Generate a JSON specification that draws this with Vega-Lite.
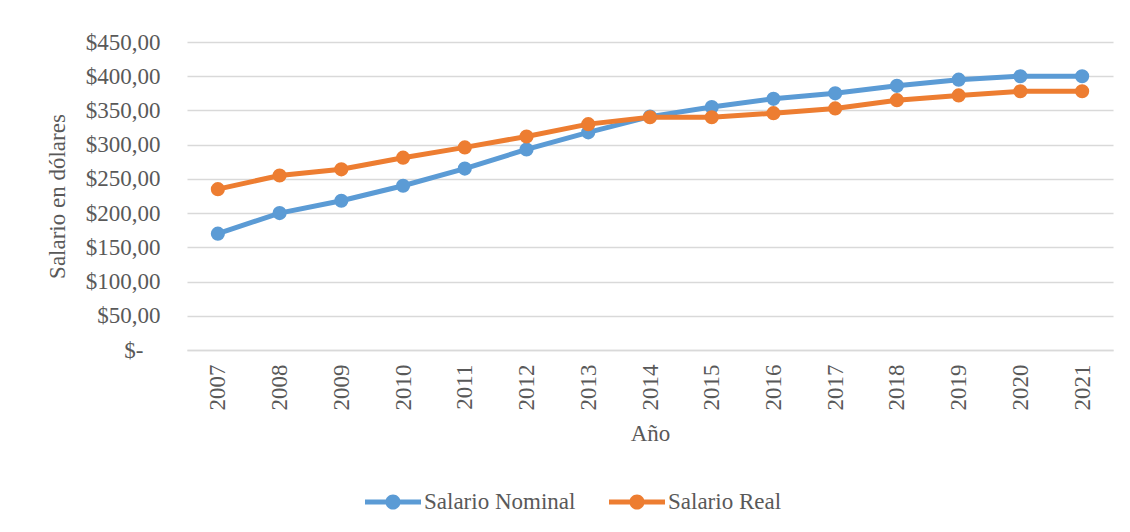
{
  "$schema": "https://vega.github.io/schema/vega-lite/v6.json",
  "width": 926,
  "height": 308,
  "autosize": "none",
  "padding": {"left": 187, "top": 42, "right": 17, "bottom": 182},
  "background": "white",
  "config": {
    "view": {"stroke": null},
    "font": "Liberation Serif",
    "axis": {
      "labelFont": "Liberation Serif",
      "titleFont": "Liberation Serif",
      "labelFontSize": 23,
      "titleFontSize": 23,
      "labelColor": "#595959",
      "titleColor": "#595959",
      "titleFontWeight": "normal",
      "ticks": false
    },
    "legend": {
      "labelFont": "Liberation Serif"
    }
  },
  "data": {
    "values": [
      {"year": "2007", "series": "Salario Nominal", "value": 170},
      {"year": "2008", "series": "Salario Nominal", "value": 200},
      {"year": "2009", "series": "Salario Nominal", "value": 218},
      {"year": "2010", "series": "Salario Nominal", "value": 240},
      {"year": "2011", "series": "Salario Nominal", "value": 265},
      {"year": "2012", "series": "Salario Nominal", "value": 293},
      {"year": "2013", "series": "Salario Nominal", "value": 318},
      {"year": "2014", "series": "Salario Nominal", "value": 341},
      {"year": "2015", "series": "Salario Nominal", "value": 355},
      {"year": "2016", "series": "Salario Nominal", "value": 367},
      {"year": "2017", "series": "Salario Nominal", "value": 375},
      {"year": "2018", "series": "Salario Nominal", "value": 386},
      {"year": "2019", "series": "Salario Nominal", "value": 395},
      {"year": "2020", "series": "Salario Nominal", "value": 400},
      {"year": "2021", "series": "Salario Nominal", "value": 400},
      {"year": "2007", "series": "Salario Real", "value": 235},
      {"year": "2008", "series": "Salario Real", "value": 255},
      {"year": "2009", "series": "Salario Real", "value": 264},
      {"year": "2010", "series": "Salario Real", "value": 281},
      {"year": "2011", "series": "Salario Real", "value": 296},
      {"year": "2012", "series": "Salario Real", "value": 312},
      {"year": "2013", "series": "Salario Real", "value": 330},
      {"year": "2014", "series": "Salario Real", "value": 340},
      {"year": "2015", "series": "Salario Real", "value": 340},
      {"year": "2016", "series": "Salario Real", "value": 346},
      {"year": "2017", "series": "Salario Real", "value": 353},
      {"year": "2018", "series": "Salario Real", "value": 365},
      {"year": "2019", "series": "Salario Real", "value": 372},
      {"year": "2020", "series": "Salario Real", "value": 378},
      {"year": "2021", "series": "Salario Real", "value": 378}
    ]
  },
  "mark": {
    "type": "line",
    "strokeWidth": 5,
    "point": {"filled": true, "size": 200, "opacity": 1}
  },
  "encoding": {
    "x": {
      "field": "year",
      "type": "ordinal",
      "axis": {
        "title": "Año",
        "labelAngle": -90,
        "labelPadding": 14,
        "titlePadding": 12,
        "domain": true,
        "domainColor": "#D9D9D9",
        "domainWidth": 1.3,
        "grid": false
      }
    },
    "y": {
      "field": "value",
      "type": "quantitative",
      "scale": {"domain": [0, 450], "nice": false},
      "axis": {
        "title": "Salario en dólares",
        "values": [0, 50, 100, 150, 200, 250, 300, 350, 400, 450],
        "labelExpr": "datum.value == 0 ? '$-' : '$' + replace(format(datum.value, '.2f'), '.', ',')",
        "labelPadding": {"condition": {"test": "datum.value == 0", "value": 44}, "value": 27},
        "titlePadding": 16,
        "domain": false,
        "grid": true,
        "gridColor": "#D9D9D9",
        "gridWidth": 1.3
      }
    },
    "color": {
      "field": "series",
      "type": "nominal",
      "scale": {"domain": ["Salario Nominal", "Salario Real"], "range": ["#5B9BD5", "#ED7D31"]},
      "legend": {
        "title": null,
        "orient": "none",
        "direction": "horizontal",
        "legendX": 178,
        "legendY": 432,
        "symbolType": "M-1,-0.09L1,-0.09L1,0.09L-1,0.09Z M-0.27,0A0.27,0.27,0,1,1,0.27,0A0.27,0.27,0,1,1,-0.27,0Z",
        "symbolSize": 3136,
        "symbolStrokeWidth": 0,
        "labelFont": "Liberation Serif",
        "labelFontSize": 23,
        "labelColor": "#595959",
        "labelOffset": 3,
        "columnPadding": 33,
        "encode": {
          "symbols": {"update": {"fill": {"scale": "color", "field": "value"}, "strokeWidth": {"value": 0}, "opacity": {"value": 1}}}
        }
      }
    }
  }
}
